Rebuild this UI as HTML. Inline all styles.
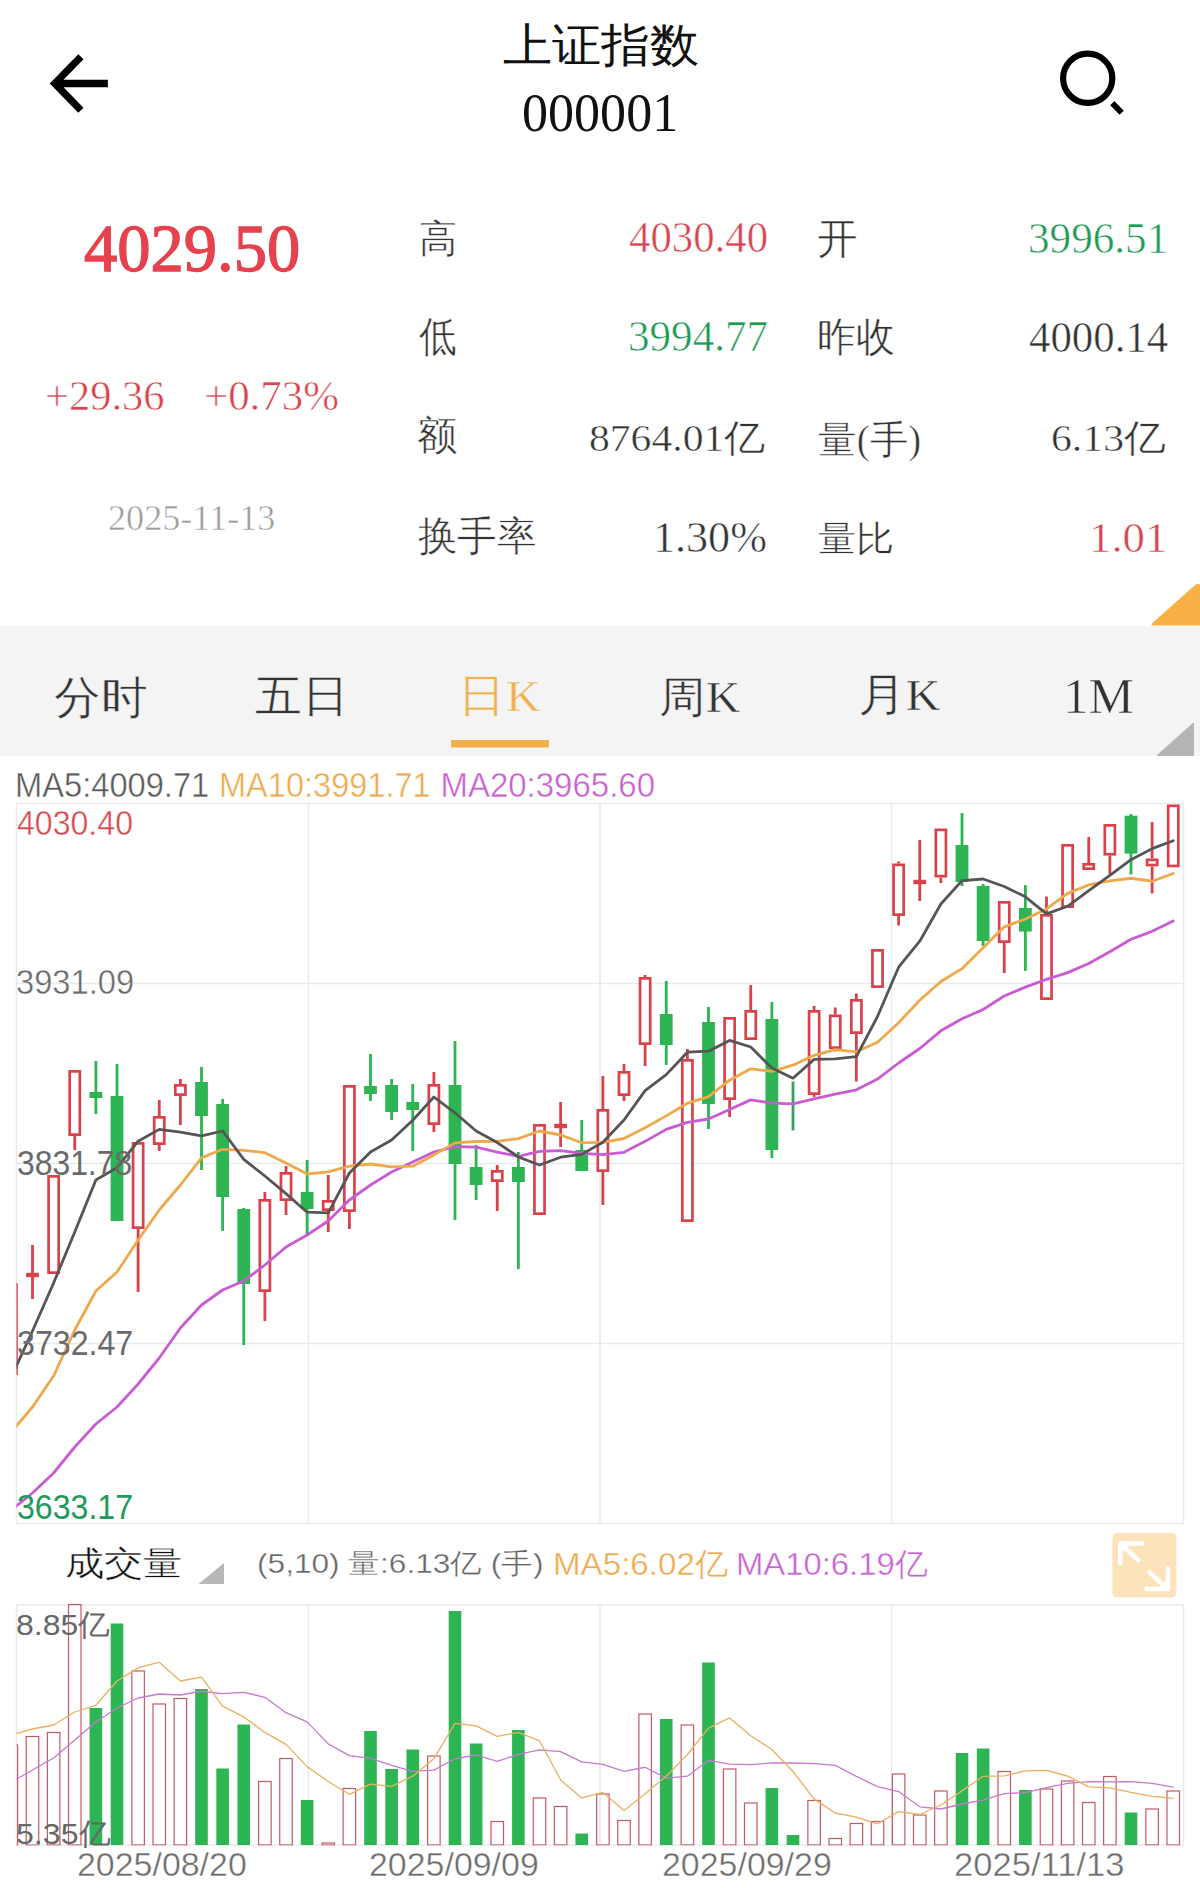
<!DOCTYPE html>
<html><head><meta charset="utf-8"><style>
html,body{margin:0;padding:0;background:#fff}
body{width:1200px;height:1888px;position:relative;overflow:hidden}
.t{position:absolute;white-space:nowrap;line-height:1;transform-origin:0 0}
.s{font-family:"Liberation Serif",serif}
.a{font-family:"Liberation Sans",sans-serif}
</style></head><body>
<svg width="1200" height="1888" viewBox="0 0 1200 1888" style="position:absolute;left:0;top:0"><rect x="0" y="626" width="1200" height="130" fill="#f4f4f4"/><rect x="16.5" y="803.5" width="1167.0" height="720.0" fill="none" stroke="#e6ebee" stroke-width="1.5"/><line x1="16.5" y1="983.5" x2="1183.5" y2="983.5" stroke="#e6ebee" stroke-width="1.5"/><line x1="16.5" y1="1163.5" x2="1183.5" y2="1163.5" stroke="#e6ebee" stroke-width="1.5"/><line x1="16.5" y1="1343.5" x2="1183.5" y2="1343.5" stroke="#e6ebee" stroke-width="1.5"/><line x1="308.5" y1="803.5" x2="308.5" y2="1523.5" stroke="#e6ebee" stroke-width="1.5"/><line x1="600" y1="803.5" x2="600" y2="1523.5" stroke="#e6ebee" stroke-width="1.5"/><line x1="891.5" y1="803.5" x2="891.5" y2="1523.5" stroke="#e6ebee" stroke-width="1.5"/><defs><clipPath id="cm"><rect x="16.5" y="790" width="1167" height="734"/></clipPath><clipPath id="cv"><rect x="16.5" y="1600" width="1167" height="245.5"/></clipPath></defs><g clip-path="url(#cm)"><rect x="6.32" y="1284.35" width="10.1" height="89.3" fill="#fff" stroke="#d9414b" stroke-width="2.7"/><line x1="32.5" y1="1245" x2="32.5" y2="1274" stroke="#d9414b" stroke-width="2.8"/><line x1="32.5" y1="1276" x2="32.5" y2="1299" stroke="#d9414b" stroke-width="2.8"/><rect x="26.1" y="1272.8" width="12.8" height="4.4" fill="#d9414b"/><rect x="48.58" y="1176.35" width="10.1" height="96.3" fill="#fff" stroke="#d9414b" stroke-width="2.7"/><line x1="74.75" y1="1136" x2="74.75" y2="1150" stroke="#d9414b" stroke-width="2.8"/><rect x="69.7" y="1071.35" width="10.1" height="63.3" fill="#fff" stroke="#d9414b" stroke-width="2.7"/><line x1="95.88" y1="1061" x2="95.88" y2="1114" stroke="#2cb552" stroke-width="2.8"/><rect x="89.47" y="1092" width="12.8" height="6" fill="#2cb552"/><line x1="117" y1="1064" x2="117" y2="1221" stroke="#2cb552" stroke-width="2.8"/><rect x="110.6" y="1096" width="12.8" height="125" fill="#2cb552"/><line x1="138.12" y1="1229" x2="138.12" y2="1292" stroke="#d9414b" stroke-width="2.8"/><rect x="133.07" y="1143.35" width="10.1" height="84.3" fill="#fff" stroke="#d9414b" stroke-width="2.7"/><line x1="159.25" y1="1100" x2="159.25" y2="1116" stroke="#d9414b" stroke-width="2.8"/><line x1="159.25" y1="1145" x2="159.25" y2="1151" stroke="#d9414b" stroke-width="2.8"/><rect x="154.2" y="1117.35" width="10.1" height="26.3" fill="#fff" stroke="#d9414b" stroke-width="2.7"/><line x1="180.38" y1="1079" x2="180.38" y2="1084" stroke="#d9414b" stroke-width="2.8"/><line x1="180.38" y1="1096" x2="180.38" y2="1125" stroke="#d9414b" stroke-width="2.8"/><rect x="175.32" y="1085.35" width="10.1" height="9.3" fill="#fff" stroke="#d9414b" stroke-width="2.7"/><line x1="201.5" y1="1067" x2="201.5" y2="1170" stroke="#2cb552" stroke-width="2.8"/><rect x="195.1" y="1082" width="12.8" height="34" fill="#2cb552"/><line x1="222.62" y1="1099" x2="222.62" y2="1231" stroke="#2cb552" stroke-width="2.8"/><rect x="216.22" y="1104" width="12.8" height="93" fill="#2cb552"/><line x1="243.75" y1="1208" x2="243.75" y2="1345" stroke="#2cb552" stroke-width="2.8"/><rect x="237.35" y="1209" width="12.8" height="75" fill="#2cb552"/><line x1="264.88" y1="1192" x2="264.88" y2="1199" stroke="#d9414b" stroke-width="2.8"/><line x1="264.88" y1="1292" x2="264.88" y2="1321" stroke="#d9414b" stroke-width="2.8"/><rect x="259.83" y="1200.35" width="10.1" height="90.3" fill="#fff" stroke="#d9414b" stroke-width="2.7"/><line x1="286" y1="1166" x2="286" y2="1172" stroke="#d9414b" stroke-width="2.8"/><line x1="286" y1="1201" x2="286" y2="1215" stroke="#d9414b" stroke-width="2.8"/><rect x="280.95" y="1173.35" width="10.1" height="26.3" fill="#fff" stroke="#d9414b" stroke-width="2.7"/><line x1="307.12" y1="1160" x2="307.12" y2="1236" stroke="#2cb552" stroke-width="2.8"/><rect x="300.73" y="1192" width="12.8" height="17" fill="#2cb552"/><line x1="328.25" y1="1175" x2="328.25" y2="1200" stroke="#d9414b" stroke-width="2.8"/><line x1="328.25" y1="1211" x2="328.25" y2="1232" stroke="#d9414b" stroke-width="2.8"/><rect x="323.2" y="1201.35" width="10.1" height="8.3" fill="#fff" stroke="#d9414b" stroke-width="2.7"/><line x1="349.38" y1="1212" x2="349.38" y2="1229" stroke="#d9414b" stroke-width="2.8"/><rect x="344.33" y="1086.35" width="10.1" height="124.3" fill="#fff" stroke="#d9414b" stroke-width="2.7"/><line x1="370.5" y1="1054" x2="370.5" y2="1101" stroke="#2cb552" stroke-width="2.8"/><rect x="364.1" y="1086" width="12.8" height="8" fill="#2cb552"/><line x1="391.62" y1="1079" x2="391.62" y2="1120" stroke="#2cb552" stroke-width="2.8"/><rect x="385.23" y="1085" width="12.8" height="27" fill="#2cb552"/><line x1="412.75" y1="1084" x2="412.75" y2="1151" stroke="#2cb552" stroke-width="2.8"/><rect x="406.35" y="1102" width="12.8" height="8" fill="#2cb552"/><line x1="433.88" y1="1072" x2="433.88" y2="1084" stroke="#d9414b" stroke-width="2.8"/><line x1="433.88" y1="1125" x2="433.88" y2="1132" stroke="#d9414b" stroke-width="2.8"/><rect x="428.83" y="1085.35" width="10.1" height="38.3" fill="#fff" stroke="#d9414b" stroke-width="2.7"/><line x1="455" y1="1041" x2="455" y2="1220" stroke="#2cb552" stroke-width="2.8"/><rect x="448.6" y="1085" width="12.8" height="79" fill="#2cb552"/><line x1="476.12" y1="1145" x2="476.12" y2="1200" stroke="#2cb552" stroke-width="2.8"/><rect x="469.73" y="1167" width="12.8" height="18" fill="#2cb552"/><line x1="497.25" y1="1165" x2="497.25" y2="1170" stroke="#d9414b" stroke-width="2.8"/><line x1="497.25" y1="1182" x2="497.25" y2="1211" stroke="#d9414b" stroke-width="2.8"/><rect x="492.2" y="1171.35" width="10.1" height="9.3" fill="#fff" stroke="#d9414b" stroke-width="2.7"/><line x1="518.38" y1="1152" x2="518.38" y2="1269" stroke="#2cb552" stroke-width="2.8"/><rect x="511.98" y="1167" width="12.8" height="15" fill="#2cb552"/><rect x="534.45" y="1125.35" width="10.1" height="88.3" fill="#fff" stroke="#d9414b" stroke-width="2.7"/><line x1="560.62" y1="1102" x2="560.62" y2="1125" stroke="#d9414b" stroke-width="2.8"/><line x1="560.62" y1="1127" x2="560.62" y2="1147" stroke="#d9414b" stroke-width="2.8"/><rect x="554.23" y="1123.8" width="12.8" height="4.4" fill="#d9414b"/><line x1="581.75" y1="1120" x2="581.75" y2="1171" stroke="#2cb552" stroke-width="2.8"/><rect x="575.35" y="1150" width="12.8" height="21" fill="#2cb552"/><line x1="602.88" y1="1076" x2="602.88" y2="1109" stroke="#d9414b" stroke-width="2.8"/><line x1="602.88" y1="1172" x2="602.88" y2="1205" stroke="#d9414b" stroke-width="2.8"/><rect x="597.83" y="1110.35" width="10.1" height="60.3" fill="#fff" stroke="#d9414b" stroke-width="2.7"/><line x1="624" y1="1064" x2="624" y2="1071" stroke="#d9414b" stroke-width="2.8"/><line x1="624" y1="1096" x2="624" y2="1101" stroke="#d9414b" stroke-width="2.8"/><rect x="618.95" y="1072.35" width="10.1" height="22.3" fill="#fff" stroke="#d9414b" stroke-width="2.7"/><line x1="645.12" y1="975" x2="645.12" y2="977" stroke="#d9414b" stroke-width="2.8"/><line x1="645.12" y1="1045" x2="645.12" y2="1066" stroke="#d9414b" stroke-width="2.8"/><rect x="640.08" y="978.35" width="10.1" height="65.3" fill="#fff" stroke="#d9414b" stroke-width="2.7"/><line x1="666.25" y1="981" x2="666.25" y2="1065" stroke="#2cb552" stroke-width="2.8"/><rect x="659.85" y="1014" width="12.8" height="31" fill="#2cb552"/><line x1="687.38" y1="1049" x2="687.38" y2="1059" stroke="#d9414b" stroke-width="2.8"/><rect x="682.33" y="1060.35" width="10.1" height="160.3" fill="#fff" stroke="#d9414b" stroke-width="2.7"/><line x1="708.5" y1="1007" x2="708.5" y2="1129" stroke="#2cb552" stroke-width="2.8"/><rect x="702.1" y="1022" width="12.8" height="82" fill="#2cb552"/><line x1="729.62" y1="1100" x2="729.62" y2="1117" stroke="#d9414b" stroke-width="2.8"/><rect x="724.58" y="1018.35" width="10.1" height="80.3" fill="#fff" stroke="#d9414b" stroke-width="2.7"/><line x1="750.75" y1="985" x2="750.75" y2="1010" stroke="#d9414b" stroke-width="2.8"/><rect x="745.7" y="1011.35" width="10.1" height="27.3" fill="#fff" stroke="#d9414b" stroke-width="2.7"/><line x1="771.88" y1="1002" x2="771.88" y2="1158" stroke="#2cb552" stroke-width="2.8"/><rect x="765.48" y="1019" width="12.8" height="131" fill="#2cb552"/><line x1="793" y1="1081.5" x2="793" y2="1130.5" stroke="#3aa05a" stroke-width="2.8"/><line x1="814.12" y1="1006" x2="814.12" y2="1010" stroke="#d9414b" stroke-width="2.8"/><line x1="814.12" y1="1095" x2="814.12" y2="1097" stroke="#d9414b" stroke-width="2.8"/><rect x="809.08" y="1011.35" width="10.1" height="82.3" fill="#fff" stroke="#d9414b" stroke-width="2.7"/><line x1="835.25" y1="1007.5" x2="835.25" y2="1014.5" stroke="#d9414b" stroke-width="2.8"/><line x1="835.25" y1="1049" x2="835.25" y2="1051.5" stroke="#d9414b" stroke-width="2.8"/><rect x="830.2" y="1015.85" width="10.1" height="31.8" fill="#fff" stroke="#d9414b" stroke-width="2.7"/><line x1="856.38" y1="993.5" x2="856.38" y2="999" stroke="#d9414b" stroke-width="2.8"/><line x1="856.38" y1="1034" x2="856.38" y2="1081.5" stroke="#d9414b" stroke-width="2.8"/><rect x="851.33" y="1000.35" width="10.1" height="32.3" fill="#fff" stroke="#d9414b" stroke-width="2.7"/><rect x="872.45" y="950.35" width="10.1" height="36.3" fill="#fff" stroke="#d9414b" stroke-width="2.7"/><line x1="898.62" y1="861.5" x2="898.62" y2="863.5" stroke="#d9414b" stroke-width="2.8"/><line x1="898.62" y1="916" x2="898.62" y2="925.5" stroke="#d9414b" stroke-width="2.8"/><rect x="893.58" y="864.85" width="10.1" height="49.8" fill="#fff" stroke="#d9414b" stroke-width="2.7"/><line x1="919.75" y1="840" x2="919.75" y2="880" stroke="#d9414b" stroke-width="2.8"/><line x1="919.75" y1="884" x2="919.75" y2="901" stroke="#d9414b" stroke-width="2.8"/><rect x="913.35" y="879.8" width="12.8" height="4.4" fill="#d9414b"/><line x1="940.88" y1="877.5" x2="940.88" y2="883" stroke="#d9414b" stroke-width="2.8"/><rect x="935.83" y="829.85" width="10.1" height="46.3" fill="#fff" stroke="#d9414b" stroke-width="2.7"/><line x1="962" y1="813" x2="962" y2="886" stroke="#2cb552" stroke-width="2.8"/><rect x="955.6" y="845" width="12.8" height="37" fill="#2cb552"/><line x1="983.12" y1="884" x2="983.12" y2="946" stroke="#2cb552" stroke-width="2.8"/><rect x="976.73" y="886" width="12.8" height="55" fill="#2cb552"/><line x1="1004.25" y1="943" x2="1004.25" y2="973" stroke="#d9414b" stroke-width="2.8"/><rect x="999.2" y="902.35" width="10.1" height="39.3" fill="#fff" stroke="#d9414b" stroke-width="2.7"/><line x1="1025.38" y1="885" x2="1025.38" y2="971" stroke="#2cb552" stroke-width="2.8"/><rect x="1018.98" y="908" width="12.8" height="23.5" fill="#2cb552"/><line x1="1046.5" y1="896.5" x2="1046.5" y2="914" stroke="#d9414b" stroke-width="2.8"/><rect x="1041.45" y="915.35" width="10.1" height="83.3" fill="#fff" stroke="#d9414b" stroke-width="2.7"/><rect x="1062.57" y="845.35" width="10.1" height="61.3" fill="#fff" stroke="#d9414b" stroke-width="2.7"/><line x1="1088.75" y1="837" x2="1088.75" y2="863" stroke="#d9414b" stroke-width="2.8"/><rect x="1083.7" y="864.35" width="10.1" height="4.3" fill="#fff" stroke="#d9414b" stroke-width="2.7"/><line x1="1109.88" y1="855.6" x2="1109.88" y2="874.6" stroke="#d9414b" stroke-width="2.8"/><rect x="1104.82" y="825.35" width="10.1" height="28.9" fill="#fff" stroke="#d9414b" stroke-width="2.7"/><line x1="1131" y1="814" x2="1131" y2="874.6" stroke="#2cb552" stroke-width="2.8"/><rect x="1124.6" y="815.7" width="12.8" height="37.9" fill="#2cb552"/><line x1="1152.12" y1="822" x2="1152.12" y2="858.5" stroke="#d9414b" stroke-width="2.8"/><line x1="1152.12" y1="866.4" x2="1152.12" y2="893.5" stroke="#d9414b" stroke-width="2.8"/><rect x="1147.07" y="859.85" width="10.1" height="5.2" fill="#fff" stroke="#d9414b" stroke-width="2.7"/><rect x="1168.2" y="805.85" width="10.1" height="60.1" fill="#fff" stroke="#d9414b" stroke-width="2.7"/><polyline points="11.38,1510 32.5,1493 53.62,1473 74.75,1447 95.88,1424 117,1407 138.12,1384 159.25,1358 180.38,1328 201.5,1305 222.62,1290 243.75,1281 264.88,1265 286,1247 307.12,1235 328.25,1221 349.38,1200 370.5,1185 391.62,1172 412.75,1162.05 433.88,1152.1 455,1146.6 476.12,1147.1 497.25,1152.1 518.38,1156.3 539.5,1151.45 560.62,1150.6 581.75,1153.35 602.88,1154.6 624,1152.35 645.12,1141.35 666.25,1129.4 687.38,1122.4 708.5,1119 729.62,1109.4 750.75,1099.9 771.88,1103.15 793,1103.95 814.12,1098.85 835.25,1094.08 856.38,1089.83 877.5,1079.08 898.62,1063 919.75,1048.5 940.88,1030.83 962,1018.73 983.12,1009.52 1004.25,996.02 1025.38,987.15 1046.5,979.3 1067.62,972.65 1088.75,963.55 1109.88,951.8 1131,939.28 1152.12,931.35 1173.25,921.08" fill="none" stroke="#c95bd3" stroke-width="2.8" stroke-linejoin="round" stroke-linecap="round"/><polyline points="11.38,1432 32.5,1407 53.62,1376 74.75,1330 95.88,1291 117,1272 138.12,1240 159.25,1210 180.38,1185 201.5,1157.9 222.62,1149.3 243.75,1150.3 264.88,1152.7 286,1162.9 307.12,1174 328.25,1171.9 349.38,1166.2 370.5,1164 391.62,1166.8 412.75,1166.2 433.88,1154.9 455,1142.9 476.12,1141.5 497.25,1141.3 518.38,1138.6 539.5,1131 560.62,1135 581.75,1142.7 602.88,1142.4 624,1138.5 645.12,1127.8 666.25,1115.9 687.38,1103.3 708.5,1096.7 729.62,1080.2 750.75,1068.8 771.88,1071.3 793,1065.2 814.12,1055.3 835.25,1049.65 856.38,1051.85 877.5,1042.25 898.62,1022.7 919.75,1000.3 940.88,981.45 962,968.65 983.12,947.75 1004.25,926.85 1025.38,919 1046.5,908.95 1067.62,893.45 1088.75,884.85 1109.88,880.9 1131,878.26 1152.12,881.26 1173.25,873.51" fill="none" stroke="#f0a94a" stroke-width="2.8" stroke-linejoin="round" stroke-linecap="round"/><polyline points="11.38,1377 32.5,1331 53.62,1283 74.75,1232 95.88,1180 117,1167.6 138.12,1141.2 159.25,1129.4 180.38,1132.2 201.5,1135.8 222.62,1131 243.75,1159.4 264.88,1176 286,1193.6 307.12,1212.2 328.25,1212.8 349.38,1173 370.5,1152 391.62,1140 412.75,1120.2 433.88,1097 455,1112.8 476.12,1131 497.25,1142.6 518.38,1157 539.5,1165 560.62,1157.2 581.75,1154.4 602.88,1142.2 624,1120 645.12,1090.6 666.25,1074.6 687.38,1052.2 708.5,1051.2 729.62,1040.4 750.75,1047 771.88,1068 793,1078.2 814.12,1059.4 835.25,1058.9 856.38,1056.7 877.5,1016.5 898.62,967.2 919.75,941.2 940.88,904 962,880.6 983.12,879 1004.25,886.5 1025.38,896.8 1046.5,913.9 1067.62,906.3 1088.75,890.7 1109.88,875.3 1131,859.72 1152.12,848.62 1173.25,840.72" fill="none" stroke="#555555" stroke-width="2.8" stroke-linejoin="round" stroke-linecap="round"/></g><rect x="16.5" y="1605" width="1167.0" height="240" fill="none" stroke="#e6ebee" stroke-width="1.5"/><line x1="308.5" y1="1605" x2="308.5" y2="1845" stroke="#e6ebee" stroke-width="1.5"/><line x1="600" y1="1605" x2="600" y2="1845" stroke="#e6ebee" stroke-width="1.5"/><line x1="891.5" y1="1605" x2="891.5" y2="1845" stroke="#e6ebee" stroke-width="1.5"/><g clip-path="url(#cv)"><rect x="5.12" y="1745" width="12.5" height="100" fill="none" stroke="#c45a64" stroke-width="1.2"/><rect x="26.25" y="1736.5" width="12.5" height="108.5" fill="none" stroke="#c45a64" stroke-width="1.2"/><rect x="47.38" y="1732.5" width="12.5" height="112.5" fill="none" stroke="#c45a64" stroke-width="1.2"/><rect x="68.5" y="1604.5" width="12.5" height="240.5" fill="none" stroke="#c45a64" stroke-width="1.2"/><rect x="89.58" y="1708" width="12.6" height="137" fill="#2cb552"/><rect x="110.7" y="1623.5" width="12.6" height="221.5" fill="#2cb552"/><rect x="131.88" y="1671" width="12.5" height="174" fill="none" stroke="#c45a64" stroke-width="1.2"/><rect x="153" y="1704" width="12.5" height="141" fill="none" stroke="#c45a64" stroke-width="1.2"/><rect x="174.12" y="1698.5" width="12.5" height="146.5" fill="none" stroke="#c45a64" stroke-width="1.2"/><rect x="195.2" y="1689" width="12.6" height="156" fill="#2cb552"/><rect x="216.32" y="1768.5" width="12.6" height="76.5" fill="#2cb552"/><rect x="237.45" y="1724.5" width="12.6" height="120.5" fill="#2cb552"/><rect x="258.62" y="1781.5" width="12.5" height="63.5" fill="none" stroke="#c45a64" stroke-width="1.2"/><rect x="279.75" y="1758.5" width="12.5" height="86.5" fill="none" stroke="#c45a64" stroke-width="1.2"/><rect x="300.82" y="1800" width="12.6" height="45" fill="#2cb552"/><rect x="322" y="1843" width="12.5" height="2" fill="none" stroke="#c45a64" stroke-width="1.2"/><rect x="343.12" y="1788.5" width="12.5" height="56.5" fill="none" stroke="#c45a64" stroke-width="1.2"/><rect x="364.2" y="1731" width="12.6" height="114" fill="#2cb552"/><rect x="385.32" y="1769" width="12.6" height="76" fill="#2cb552"/><rect x="406.45" y="1749.5" width="12.6" height="95.5" fill="#2cb552"/><rect x="427.62" y="1756" width="12.5" height="89" fill="none" stroke="#c45a64" stroke-width="1.2"/><rect x="448.7" y="1611" width="12.6" height="234" fill="#2cb552"/><rect x="469.82" y="1743.5" width="12.6" height="101.5" fill="#2cb552"/><rect x="491" y="1821.5" width="12.5" height="23.5" fill="none" stroke="#c45a64" stroke-width="1.2"/><rect x="512.08" y="1730" width="12.6" height="115" fill="#2cb552"/><rect x="533.25" y="1798" width="12.5" height="47" fill="none" stroke="#c45a64" stroke-width="1.2"/><rect x="554.38" y="1806.5" width="12.5" height="38.5" fill="none" stroke="#c45a64" stroke-width="1.2"/><rect x="575.45" y="1833.5" width="12.6" height="11.5" fill="#2cb552"/><rect x="596.62" y="1794" width="12.5" height="51" fill="none" stroke="#c45a64" stroke-width="1.2"/><rect x="617.75" y="1820.5" width="12.5" height="24.5" fill="none" stroke="#c45a64" stroke-width="1.2"/><rect x="638.88" y="1714" width="12.5" height="131" fill="none" stroke="#c45a64" stroke-width="1.2"/><rect x="659.95" y="1719" width="12.6" height="126" fill="#2cb552"/><rect x="681.12" y="1725" width="12.5" height="120" fill="none" stroke="#c45a64" stroke-width="1.2"/><rect x="702.2" y="1662.5" width="12.6" height="182.5" fill="#2cb552"/><rect x="723.38" y="1769" width="12.5" height="76" fill="none" stroke="#c45a64" stroke-width="1.2"/><rect x="744.5" y="1803" width="12.5" height="42" fill="none" stroke="#c45a64" stroke-width="1.2"/><rect x="765.58" y="1788" width="12.6" height="57" fill="#2cb552"/><rect x="786.7" y="1835" width="12.6" height="10" fill="#2cb552"/><rect x="807.88" y="1800.5" width="12.5" height="44.5" fill="none" stroke="#c45a64" stroke-width="1.2"/><rect x="829" y="1838.5" width="12.5" height="6.5" fill="none" stroke="#c45a64" stroke-width="1.2"/><rect x="850.12" y="1823.5" width="12.5" height="21.5" fill="none" stroke="#c45a64" stroke-width="1.2"/><rect x="871.25" y="1821.5" width="12.5" height="23.5" fill="none" stroke="#c45a64" stroke-width="1.2"/><rect x="892.38" y="1774" width="12.5" height="71" fill="none" stroke="#c45a64" stroke-width="1.2"/><rect x="913.5" y="1815" width="12.5" height="30" fill="none" stroke="#c45a64" stroke-width="1.2"/><rect x="934.62" y="1791" width="12.5" height="54" fill="none" stroke="#c45a64" stroke-width="1.2"/><rect x="955.7" y="1753" width="12.6" height="92" fill="#2cb552"/><rect x="976.83" y="1748.5" width="12.6" height="96.5" fill="#2cb552"/><rect x="998" y="1771.5" width="12.5" height="73.5" fill="none" stroke="#c45a64" stroke-width="1.2"/><rect x="1019.08" y="1790" width="12.6" height="55" fill="#2cb552"/><rect x="1040.25" y="1789" width="12.5" height="56" fill="none" stroke="#c45a64" stroke-width="1.2"/><rect x="1061.38" y="1781" width="12.5" height="64" fill="none" stroke="#c45a64" stroke-width="1.2"/><rect x="1082.5" y="1802.5" width="12.5" height="42.5" fill="none" stroke="#c45a64" stroke-width="1.2"/><rect x="1103.62" y="1776.5" width="12.5" height="68.5" fill="none" stroke="#c45a64" stroke-width="1.2"/><rect x="1124.7" y="1812.5" width="12.6" height="32.5" fill="#2cb552"/><rect x="1145.88" y="1809" width="12.5" height="36" fill="none" stroke="#c45a64" stroke-width="1.2"/><rect x="1167" y="1791" width="12.5" height="54" fill="none" stroke="#c45a64" stroke-width="1.2"/><polyline points="11.38,1782 32.5,1770 53.62,1758 74.75,1740 95.88,1722 117,1708 138.12,1698 159.25,1694 180.38,1695 201.5,1691.25 222.62,1693.6 243.75,1692.4 264.88,1697.3 286,1712.7 307.12,1721.9 328.25,1743.85 349.38,1755.6 370.5,1758.3 391.62,1765.35 412.75,1771.4 433.88,1770.15 455,1758.8 476.12,1755 497.25,1761.3 518.38,1754.3 539.5,1749.8 560.62,1751.6 581.75,1761.85 602.88,1764.35 624,1771.45 645.12,1767.25 666.25,1778.05 687.38,1776.2 708.5,1760.3 729.62,1764.2 750.75,1764.7 771.88,1762.85 793,1763 814.12,1763.65 835.25,1765.45 856.38,1776.4 877.5,1786.65 898.62,1791.55 919.75,1806.8 940.88,1809 962,1804 983.12,1800.05 1004.25,1793.7 1025.38,1792.65 1046.5,1787.7 1067.62,1783.45 1088.75,1781.55 1109.88,1781.8 1131,1781.55 1152.12,1783.35 1173.25,1787.15" fill="none" stroke="#c77ad0" stroke-width="1.3" stroke-linejoin="round" stroke-linecap="round"/><polyline points="11.38,1735 32.5,1729 53.62,1725 74.75,1712 95.88,1705.3 117,1681 138.12,1667.9 159.25,1662.2 180.38,1681 201.5,1677.2 222.62,1706.2 243.75,1716.9 264.88,1732.4 286,1744.4 307.12,1766.6 328.25,1781.5 349.38,1794.3 370.5,1784.2 391.62,1786.3 412.75,1776.2 433.88,1758.8 455,1723.3 476.12,1725.8 497.25,1736.3 518.38,1732.4 539.5,1740.8 560.62,1779.9 581.75,1797.9 602.88,1792.4 624,1810.5 645.12,1793.7 666.25,1776.2 687.38,1754.5 708.5,1728.2 729.62,1717.9 750.75,1735.7 771.88,1749.5 793,1771.5 814.12,1799.1 835.25,1813 856.38,1817.1 877.5,1823.8 898.62,1811.6 919.75,1814.5 940.88,1805 962,1790.9 983.12,1776.3 1004.25,1775.8 1025.38,1770.8 1046.5,1770.4 1067.62,1776 1088.75,1786.8 1109.88,1787.8 1131,1792.3 1152.12,1796.3 1173.25,1798.3" fill="none" stroke="#eab060" stroke-width="1.3" stroke-linejoin="round" stroke-linecap="round"/></g><path d="M80.9,56.7 L54.8,83.5 L80.9,110.3 M54.8,83.5 L107.9,83.5" fill="none" stroke="#000" stroke-width="7.3" stroke-linejoin="miter"/><circle cx="1087.7" cy="78.3" r="24.6" fill="none" stroke="#000" stroke-width="6.2"/><line x1="1112.3" y1="103.1" x2="1121.7" y2="112.7" stroke="#000" stroke-width="5.9"/><path d="M1153,625.5 Q1150,625.5 1152.5,623 L1194.5,585.5 Q1197,583 1199,584 L1200,585 L1200,625.5 Z" fill="#f9b044"/><rect x="451" y="740" width="98" height="7.5" fill="#f2b04c"/><path d="M1157,755.5 L1193.5,723 L1193.5,755.5 Z" fill="#b5b5b5" stroke="#b5b5b5" stroke-width="1" stroke-linejoin="round"/><path d="M198.5,1584 L224,1563 L224,1584 Z" fill="#b8b8b8"/><rect x="1112.4" y="1533" width="64" height="64.4" rx="4.5" fill="#fde3bb"/><path d="M1119,1541.5 L1133,1541.5 L1119,1555.5 Z M1169.5,1591 L1155.5,1591 L1169.5,1577 Z" fill="#fff"/><path d="M1120.3,1563.3 L1120.3,1543.4 L1142,1543.4 M1120.3,1543.4 L1138.3,1560.3 M1146.5,1589.1 L1167.9,1589.1 L1167.9,1568.5 M1167.9,1589.1 L1149.5,1572.3" fill="none" stroke="#fff" stroke-width="4.5" stroke-linecap="round" stroke-linejoin="round"/></svg>
<div class="t s" style="left:502.98px;top:23.00px;font-size:48px;font-weight:400;color:#111;transform:scale(1.0212,0.9574);">上证指数</div>
<div class="t s" style="left:521.67px;top:85.90px;font-size:54px;font-weight:400;color:#111;transform:scale(0.9643,1.0108);">000001</div>
<div class="t s" style="left:83.99px;top:214.82px;font-size:66px;font-weight:400;color:#e5424e;transform:scale(1.0083,1.0167);-webkit-text-stroke:1.3px #e5424e;">4029.50</div>
<div class="t s" style="left:45.23px;top:374.30px;font-size:41px;font-weight:400;color:#d8434e;transform:scale(1.0357,1.0500);-webkit-text-stroke:0.5px #fff;">+29.36</div>
<div class="t s" style="left:203.91px;top:374.30px;font-size:41px;font-weight:400;color:#d8434e;transform:scale(1.0456,1.0500);-webkit-text-stroke:0.5px #fff;">+0.73%</div>
<div class="t s" style="left:107.93px;top:501.00px;font-size:35px;font-weight:400;color:#9b9b9b;transform:scale(1.0329,1.0000);-webkit-text-stroke:0.5px #fff;">2025-11-13</div>
<div class="t s" style="left:418.68px;top:218.97px;font-size:38px;font-weight:400;color:#333;transform:scale(1.0088,1.0286);-webkit-text-stroke:0.5px #fff;">高</div>
<div class="t s" style="left:628.96px;top:216.48px;font-size:41px;font-weight:400;color:#d9434f;transform:scale(1.0435,1.0654);-webkit-text-stroke:0.5px #fff;">4030.40</div>
<div class="t s" style="left:816.55px;top:216.66px;font-size:38px;font-weight:400;color:#333;transform:scale(1.0765,1.1121);-webkit-text-stroke:0.5px #fff;">开</div>
<div class="t s" style="left:1027.90px;top:215.17px;font-size:41px;font-weight:400;color:#1f9a55;transform:scale(1.0523,1.1038);-webkit-text-stroke:0.5px #fff;">3996.51</div>
<div class="t s" style="left:419.00px;top:314.65px;font-size:38px;font-weight:400;color:#333;transform:scale(1.0000,1.1176);-webkit-text-stroke:0.5px #fff;">低</div>
<div class="t s" style="left:627.90px;top:315.48px;font-size:41px;font-weight:400;color:#1f9a55;transform:scale(1.0515,1.0654);-webkit-text-stroke:0.5px #fff;">3994.77</div>
<div class="t s" style="left:816.75px;top:316.65px;font-size:38px;font-weight:400;color:#333;transform:scale(1.0264,1.0771);-webkit-text-stroke:0.5px #fff;">昨收</div>
<div class="t s" style="left:1028.55px;top:315.26px;font-size:41px;font-weight:400;color:#333;transform:scale(1.0450,1.0923);-webkit-text-stroke:0.5px #fff;">4000.14</div>
<div class="t s" style="left:416.89px;top:416.46px;font-size:38px;font-weight:400;color:#333;transform:scale(1.0571,1.0417);-webkit-text-stroke:0.5px #fff;">额</div>
<div class="t s" style="left:589.37px;top:419.12px;font-size:41px;font-weight:400;color:#333;transform:scale(1.0152,0.9378);-webkit-text-stroke:0.5px #fff;">8764.01亿</div>
<div class="t s" style="left:818.28px;top:419.67px;font-size:38px;font-weight:400;color:#333;transform:scale(1.0172,1.0342);-webkit-text-stroke:0.5px #fff;">量(手)</div>
<div class="t s" style="left:1050.96px;top:418.85px;font-size:41px;font-weight:400;color:#333;transform:scale(1.0182,0.9270);-webkit-text-stroke:0.5px #fff;">6.13亿</div>
<div class="t s" style="left:417.96px;top:516.43px;font-size:38px;font-weight:400;color:#333;transform:scale(1.0360,1.0694);-webkit-text-stroke:0.5px #fff;">换手率</div>
<div class="t s" style="left:653.20px;top:515.92px;font-size:41px;font-weight:400;color:#333;transform:scale(1.0750,1.0731);-webkit-text-stroke:0.5px #fff;">1.30%</div>
<div class="t s" style="left:818.29px;top:520.75px;font-size:38px;font-weight:400;color:#333;transform:scale(1.0055,0.9514);-webkit-text-stroke:0.5px #fff;">量比</div>
<div class="t s" style="left:1088.63px;top:516.78px;font-size:41px;font-weight:400;color:#d9434f;transform:scale(1.0923,1.0269);-webkit-text-stroke:0.5px #fff;">1.01</div>
<div class="t s" style="left:53.88px;top:676.00px;font-size:44px;font-weight:400;color:#333;transform:scale(1.0595,1.0238);-webkit-text-stroke:0.5px #f4f4f4;">分时</div>
<div class="t s" style="left:254.94px;top:675.00px;font-size:44px;font-weight:400;color:#333;transform:scale(1.0633,1.0000);-webkit-text-stroke:0.5px #f4f4f4;">五日</div>
<div class="t s" style="left:458.38px;top:673.92px;font-size:44px;font-weight:400;color:#f0b04e;transform:scale(1.0882,1.0263);-webkit-text-stroke:0.5px #f4f4f4;">日K</div>
<div class="t s" style="left:658.86px;top:675.53px;font-size:44px;font-weight:400;color:#333;transform:scale(1.0685,0.9872);-webkit-text-stroke:0.5px #f4f4f4;">周K</div>
<div class="t s" style="left:857.75px;top:674.46px;font-size:44px;font-weight:400;color:#333;transform:scale(1.0833,1.0132);-webkit-text-stroke:0.5px #f4f4f4;">月K</div>
<div class="t s" style="left:1062.86px;top:670.87px;font-size:44px;font-weight:400;color:#333;transform:scale(1.1607,1.1621);-webkit-text-stroke:0.5px #f4f4f4;">1M</div>
<div class="t a" style="left:14.53px;top:767.07px;font-size:33px;font-weight:400;color:#5a5a5a;transform:scale(0.9896,1.0870);-webkit-text-stroke:0.4px #fff;">MA5:4009.71</div>
<div class="t a" style="left:218.74px;top:767.07px;font-size:33px;font-weight:400;color:#f0aa4c;transform:scale(0.9862,1.0870);-webkit-text-stroke:0.4px #fff;">MA10:3991.71</div>
<div class="t a" style="left:440.40px;top:767.07px;font-size:33px;font-weight:400;color:#c95fd0;transform:scale(1.0000,1.0870);-webkit-text-stroke:0.4px #fff;">MA20:3965.60</div>
<div class="t a" style="left:16.70px;top:806.25px;font-size:32px;font-weight:400;color:#d8474c;transform:scale(1.0026,1.0909);-webkit-text-stroke:0.4px #fff;">4030.40</div>
<div class="t a" style="left:15.66px;top:965.25px;font-size:32px;font-weight:400;color:#6a6a6a;transform:scale(1.0205,1.0909);-webkit-text-stroke:0.4px #fff;">3931.09</div>
<div class="t a" style="left:16.50px;top:1145.66px;font-size:32px;font-weight:400;color:#6a6a6a;transform:scale(0.9956,1.0682);">3831.78</div>
<div class="t a" style="left:16.50px;top:1325.66px;font-size:32px;font-weight:400;color:#6a6a6a;transform:scale(1.0044,1.0682);">3732.47</div>
<div class="t a" style="left:16.70px;top:1490.15px;font-size:32px;font-weight:400;color:#23985a;transform:scale(1.0027,1.0909);">3633.17</div>
<div class="t s" style="left:64.64px;top:1546.11px;font-size:38px;font-weight:400;color:#111;transform:scale(1.0300,0.8919);-webkit-text-stroke:0.5px #fff;">成交量</div>
<div class="t a" style="left:257.08px;top:1548.74px;font-size:33px;font-weight:400;color:#666;transform:scale(0.9586,0.8559);-webkit-text-stroke:0.4px #fff;">(5,10) 量:6.13亿 (手)</div>
<div class="t a" style="left:553.29px;top:1547.66px;font-size:33px;font-weight:400;color:#eeaa4e;transform:scale(1.0041,0.9700);-webkit-text-stroke:0.4px #fff;">MA5:6.02亿</div>
<div class="t a" style="left:735.72px;top:1547.66px;font-size:33px;font-weight:400;color:#c863d2;transform:scale(0.9947,0.9700);-webkit-text-stroke:0.4px #fff;">MA10:6.19亿</div>
<div class="t a" style="left:16.03px;top:1608.67px;font-size:33px;font-weight:400;color:#686868;transform:scale(0.9688,0.9167);">8.85亿</div>
<div class="t a" style="left:15.55px;top:1817.67px;font-size:33px;font-weight:400;color:#686868;transform:scale(0.9737,0.9167);">5.35亿</div>
<div class="t a" style="left:77.44px;top:1848.58px;font-size:33px;font-weight:400;color:#6c6c6c;transform:scale(1.0278,0.9792);-webkit-text-stroke:0.4px #fff;">2025/08/20</div>
<div class="t a" style="left:368.94px;top:1848.58px;font-size:33px;font-weight:400;color:#6c6c6c;transform:scale(1.0278,0.9792);-webkit-text-stroke:0.4px #fff;">2025/09/09</div>
<div class="t a" style="left:662.44px;top:1848.58px;font-size:33px;font-weight:400;color:#6c6c6c;transform:scale(1.0278,0.9792);-webkit-text-stroke:0.4px #fff;">2025/09/29</div>
<div class="t a" style="left:953.91px;top:1848.58px;font-size:33px;font-weight:400;color:#6c6c6c;transform:scale(1.0472,0.9792);-webkit-text-stroke:0.4px #fff;">2025/11/13</div>
</body></html>
